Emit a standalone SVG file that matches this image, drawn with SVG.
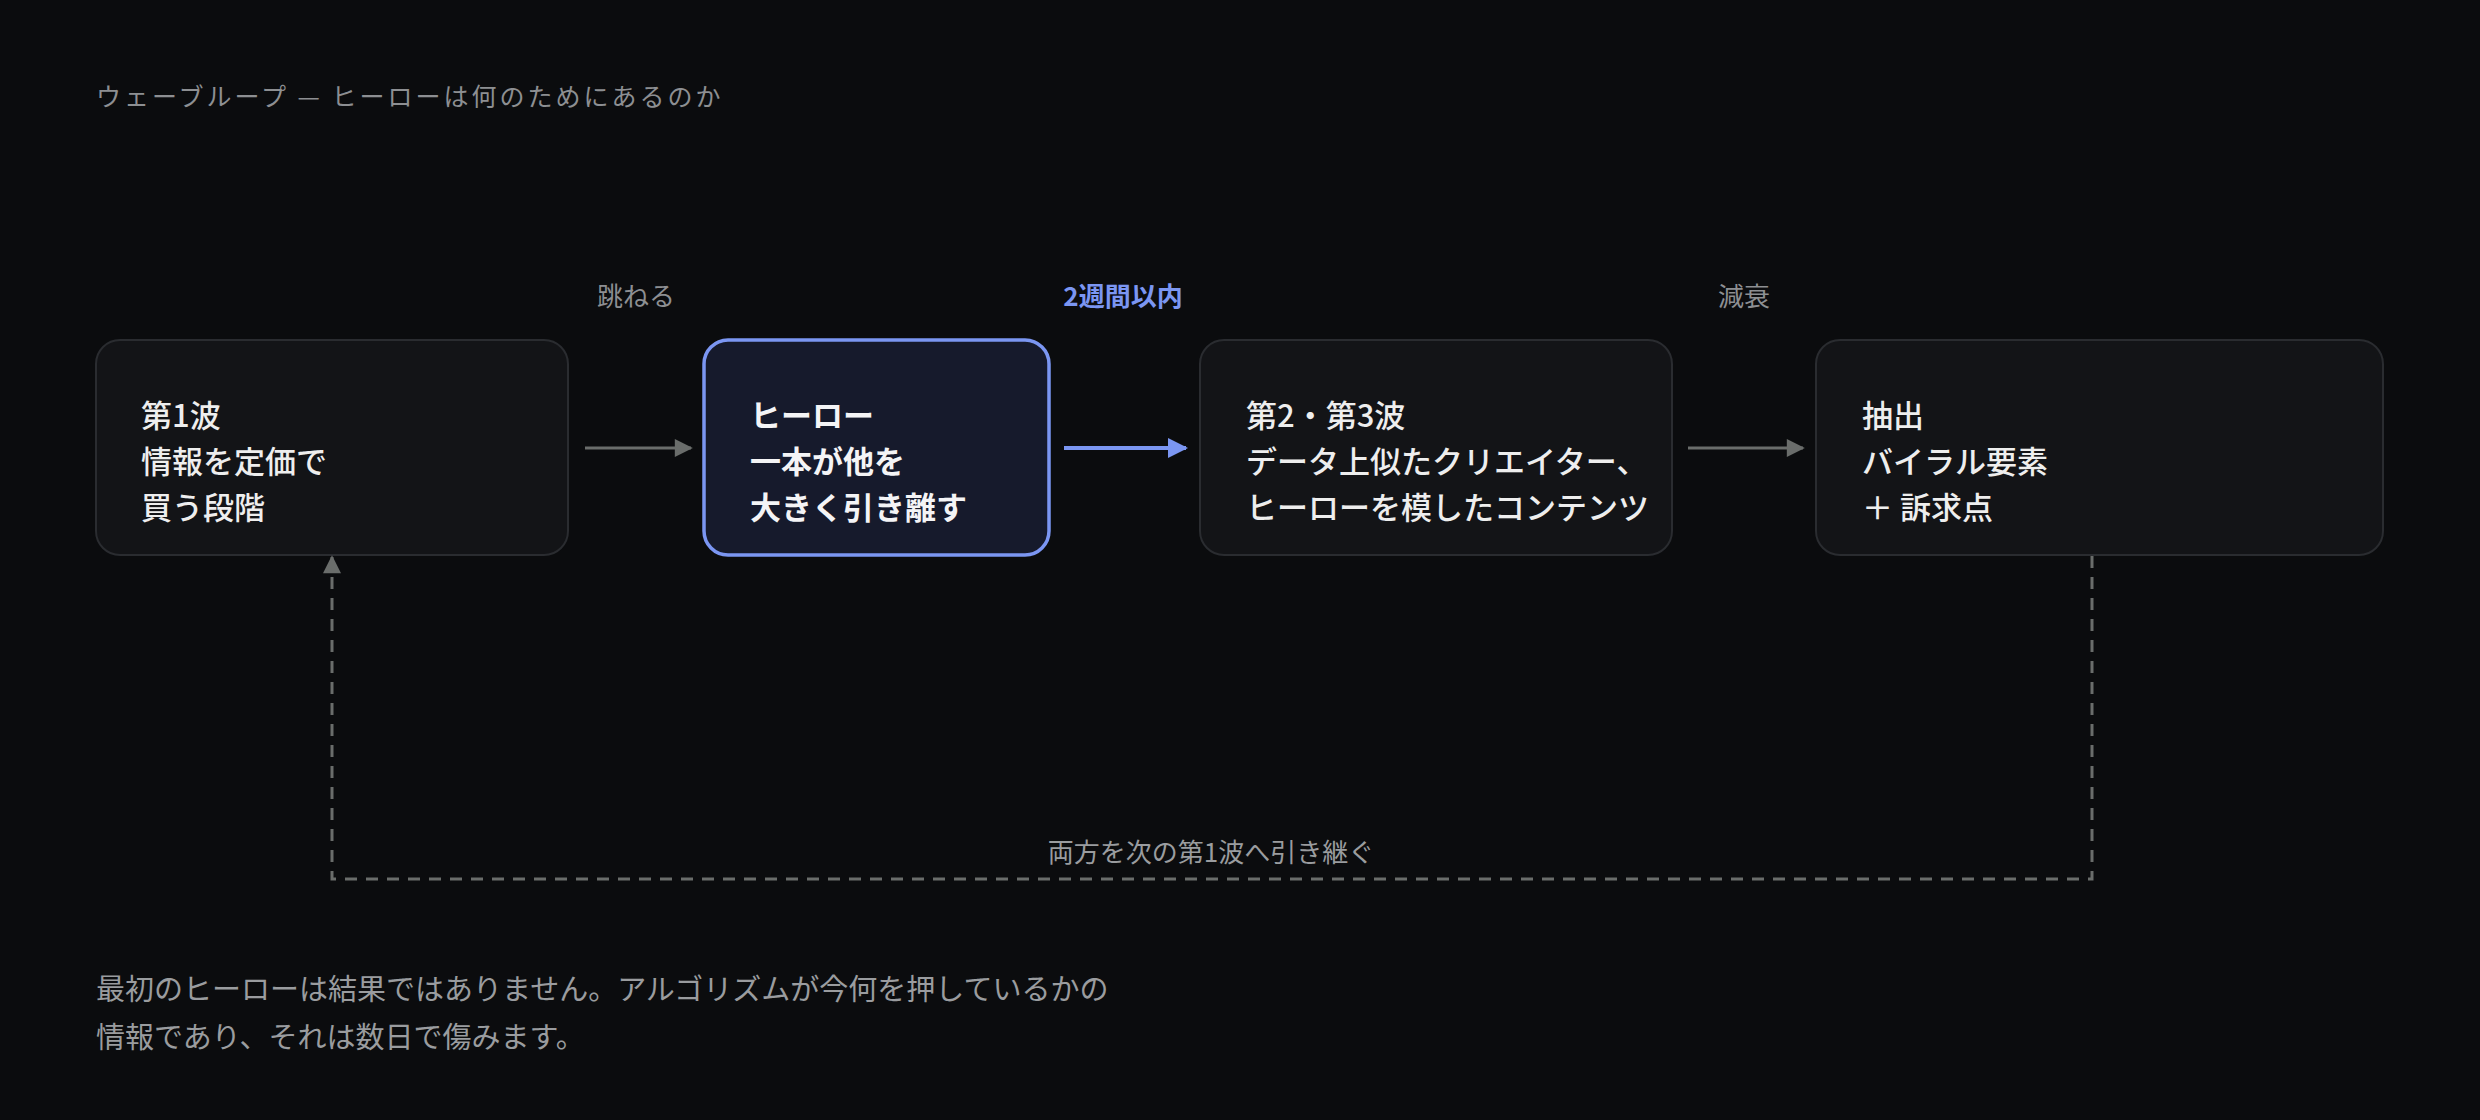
<svg xmlns="http://www.w3.org/2000/svg" width="2480" height="1120" viewBox="0 0 2480 1120">
<style>
text{font-family:"Noto Sans CJK JP","Noto Sans",sans-serif}
.n{fill:#131417;stroke:#2a2c30;stroke-width:2}
.h{fill:#161a2c;stroke:#7b96f2;stroke-width:3.5}
.t{fill:#eeeeee;font-size:31px;font-weight:500}
.tb{fill:#f4f4f6;font-size:31px;font-weight:700}
.l{fill:#8d8f92;font-size:26px;text-anchor:middle}
</style>
<defs>
<marker id="ag" viewBox="0 0 10 10" refX="9" refY="5" markerWidth="22" markerHeight="18" markerUnits="userSpaceOnUse" orient="auto"><path d="M0,0L10,5L0,10z" fill="#6a6d6b"/></marker>
<marker id="ab" viewBox="0 0 10 10" refX="9" refY="5" markerWidth="24" markerHeight="20" markerUnits="userSpaceOnUse" orient="auto"><path d="M0,0L10,5L0,10z" fill="#7b96f2"/></marker>
</defs>
<rect width="2480" height="1120" fill="#0b0c0e"/>
<text x="96" y="106" fill="#8d8f92" font-size="25" letter-spacing="3">ウェーブループ — ヒーローは何のためにあるのか</text>
<g id="n1"><rect class="n" x="96" y="340" width="472" height="215" rx="24"/>
<text class="t" x="141" y="427">第1波</text><text class="t" x="141" y="473">情報を定価で</text><text class="t" x="141" y="519">買う段階</text></g>
<g id="n2"><rect class="h" x="704" y="340" width="345" height="215" rx="24"/>
<text class="tb" x="750" y="427">ヒーロー</text><text class="tb" x="750" y="473">一本が他を</text><text class="tb" x="750" y="519">大きく引き離す</text></g>
<g id="n3"><rect class="n" x="1200" y="340" width="472" height="215" rx="24"/>
<text class="t" x="1246" y="427">第2・第3波</text><text class="t" x="1246" y="473">データ上似たクリエイター、</text><text class="t" x="1246" y="519">ヒーローを模したコンテンツ</text></g>
<g id="n4"><rect class="n" x="1816" y="340" width="567" height="215" rx="24"/>
<text class="t" x="1862" y="427">抽出</text><text class="t" x="1862" y="473">バイラル要素</text><text class="t" x="1862" y="519">＋ 訴求点</text></g>
<g id="connectors" fill="none">
<line x1="585" y1="448" x2="691" y2="448" stroke="#6a6d6b" stroke-width="3" marker-end="url(#ag)"/>
<line x1="1064" y1="448" x2="1186" y2="448" stroke="#7b96f2" stroke-width="4" marker-end="url(#ab)"/>
<line x1="1688" y1="448" x2="1803" y2="448" stroke="#6a6d6b" stroke-width="3" marker-end="url(#ag)"/>
<path d="M2092,556V879H332V557" stroke="#6a6d6b" stroke-width="3" stroke-dasharray="12 9" marker-end="url(#ag)"/>
<text class="l" x="636" y="306">跳ねる</text>
<text class="l" x="1123" y="306" fill="#7b96f2" font-weight="700" style="fill:#7b96f2">2週間以内</text>
<text class="l" x="1744" y="306">減衰</text>
<text class="l" x="1211" y="862" style="fill:#9a9c9f">両方を次の第1波へ引き継ぐ</text>
</g>
<text x="96" y="1000" fill="#9a9c9f" font-size="29">最初のヒーローは結果ではありません。アルゴリズムが今何を押しているかの</text>
<text x="96" y="1048" fill="#9a9c9f" font-size="29">情報であり、それは数日で傷みます。</text>
</svg>
